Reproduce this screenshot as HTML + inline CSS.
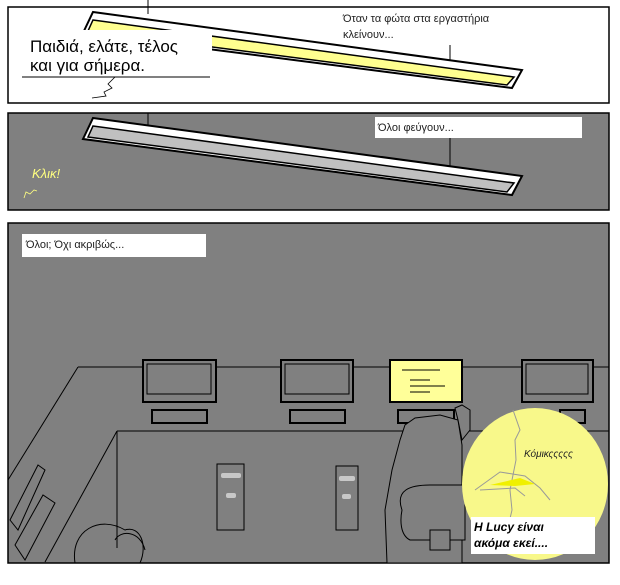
<!DOCTYPE html>
<html><head><meta charset="utf-8"><style>
html,body{margin:0;padding:0;background:#fff;width:620px;height:585px;overflow:hidden}
svg{display:block}
text{font-family:"Liberation Sans","DejaVu Sans",sans-serif}
</style></head><body>
<svg width="620" height="585" viewBox="0 0 620 585" xmlns="http://www.w3.org/2000/svg">
<rect x="0" y="0" width="620" height="585" fill="#fff"/>
<!-- Panel 1 -->
<rect x="8" y="7" width="601" height="96" fill="#fff" stroke="#000" stroke-width="1.5"/>
<line x1="148" y1="0" x2="148" y2="14" stroke="#000"/>
<line x1="450" y1="45" x2="450" y2="62" stroke="#000"/>
<polygon points="93,12 522,70 512,88 83,33" fill="#fff" stroke="#000" stroke-width="2"/>
<polygon points="93,20 514,77 507,85 88,31" fill="#ffff90" stroke="#000" stroke-width="1.5"/>
<rect x="22" y="30" width="190" height="46" fill="#fff"/>
<text x="30" y="52" font-size="17" fill="#000">Παιδιά, ελάτε, τέλος</text>
<text x="30" y="71" font-size="17" fill="#000">και για σήμερα.</text>
<line x1="22" y1="77" x2="210" y2="77" stroke="#000"/>
<path d="M115,77 L108,84 L112,88 L104,92 L106,96 L92,98" fill="none" stroke="#000" stroke-width="0.8"/>
<text x="343" y="22" font-size="11" fill="#222">Όταν τα φώτα στα εργαστήρια</text>
<text x="343" y="38" font-size="11" fill="#222">κλείνουν...</text>
<!-- Panel 2 -->
<rect x="8" y="113" width="601" height="97" fill="#808080" stroke="#000" stroke-width="1.5"/>
<line x1="148" y1="113" x2="148" y2="125" stroke="#000"/>
<line x1="450" y1="138" x2="450" y2="166" stroke="#000"/>
<polygon points="93,118 522,176 512,195 83,139" fill="#fff" stroke="#000" stroke-width="2"/>
<polygon points="93,126 514,183 507,192 88,137" fill="#c0c0c0" stroke="#000" stroke-width="1.5"/>
<rect x="375" y="117" width="207" height="21" fill="#fff"/>
<text x="378" y="131" font-size="11" fill="#222">Όλοι φεύγουν...</text>
<text x="32" y="178" font-size="13" font-style="italic" fill="#ffff80">Κλικ!</text>
<path d="M24,198 L26,192 L30,194 L34,190 L37,191" fill="none" stroke="#ffff80" stroke-width="0.8"/>
<!-- Panel 3 -->
<rect x="8" y="223" width="601" height="340" fill="#808080" stroke="#000" stroke-width="1.5"/>
<rect x="22" y="234" width="184" height="23" fill="#fff"/>
<text x="26" y="248" font-size="11" fill="#222">Όλοι; Όχι ακριβώς...</text>
<g fill="none" stroke="#000" stroke-width="1">
<line x1="78" y1="367" x2="609" y2="367"/>
<line x1="78" y1="367" x2="8" y2="480"/>
<line x1="117" y1="431" x2="609" y2="431"/>
<line x1="117" y1="431" x2="117" y2="548"/>
<line x1="117" y1="431" x2="45" y2="562"/>
</g>
<g stroke="#000" stroke-width="2" fill="#808080">
<rect x="143" y="360" width="73" height="42"/>
<rect x="281" y="360" width="72" height="42"/>
<rect x="390" y="360" width="72" height="42" fill="#ffff99"/>
<rect x="522" y="360" width="71" height="42"/>
<rect x="152" y="410" width="55" height="13"/>
<rect x="290" y="410" width="55" height="13"/>
<rect x="398" y="410" width="56" height="13"/>
<rect x="560" y="410" width="25" height="13"/>
</g>
<g stroke="#000" stroke-width="1" fill="none">
<rect x="147" y="364" width="64" height="30"/>
<rect x="285" y="364" width="64" height="30"/>
<rect x="526" y="364" width="62" height="30"/>
<line x1="402" y1="370" x2="440" y2="370"/><line x1="410" y1="380" x2="430" y2="380"/><line x1="410" y1="386" x2="445" y2="386"/><line x1="410" y1="392" x2="430" y2="392"/>
<rect x="217" y="464" width="27" height="66"/>
<rect x="336" y="466" width="22" height="64"/>
</g>
<rect x="221" y="473" width="20" height="5" rx="2" fill="#c8c8c8"/>
<rect x="226" y="493" width="10" height="5" rx="2" fill="#c8c8c8"/>
<rect x="339" y="476" width="16" height="5" rx="2" fill="#c8c8c8"/>
<rect x="342" y="494" width="9" height="5" rx="2" fill="#c8c8c8"/>
<!-- left chairs -->
<g fill="none" stroke="#000" stroke-width="1">
<path d="M10,520 L38,465 L45,470 L18,530 Z"/>
<path d="M15,545 L43,495 L55,503 L25,560 Z"/>
<path d="M75,563 C70,530 100,515 125,530 C140,525 148,545 140,563"/>
<path d="M115,540 C120,530 140,530 145,550"/>
</g>
<!-- person -->
<path d="M387,563 L385,510 L392,470 L400,440 L405,425 L415,418 L440,415 L458,420 L462,445 L462,480 L462,563 Z" fill="#808080" stroke="#000"/>
<path d="M455,408 L462,405 L470,410 L470,430 L462,440 L458,420 Z" fill="#808080" stroke="#000"/>
<path d="M402,510 C395,490 410,485 430,485 L465,485 L465,540 L410,540 C400,535 400,520 402,510 Z" fill="#808080" stroke="#000"/>
<rect x="430" y="530" width="20" height="20" fill="#808080" stroke="#000"/>
<!-- spotlight -->
<ellipse cx="535" cy="484" rx="73" ry="76" fill="#f8f88a"/>
<path d="M513,410 L520,430 L515,440 L516,460 L510,490 L512,510 L505,540" fill="none" stroke="#999" stroke-width="1"/>
<path d="M475,490 L500,472 L525,476 L540,488 L550,500 M480,490 L515,488 L525,496" fill="none" stroke="#999" stroke-width="1"/>
<path d="M490,485 L520,478 L535,484 L515,486 Z" fill="#f0f000"/>
<text x="524" y="457" font-size="10" font-style="italic" fill="#222">Κόμικςςςςς</text>
<rect x="471" y="517" width="124" height="37" fill="#fff"/>
<text x="474" y="531" font-size="12" font-weight="bold" font-style="italic" fill="#000">Η Lucy είναι</text>
<text x="474" y="547" font-size="12" font-weight="bold" font-style="italic" fill="#000">ακόμα εκεί....</text>
</svg>
</body></html>
